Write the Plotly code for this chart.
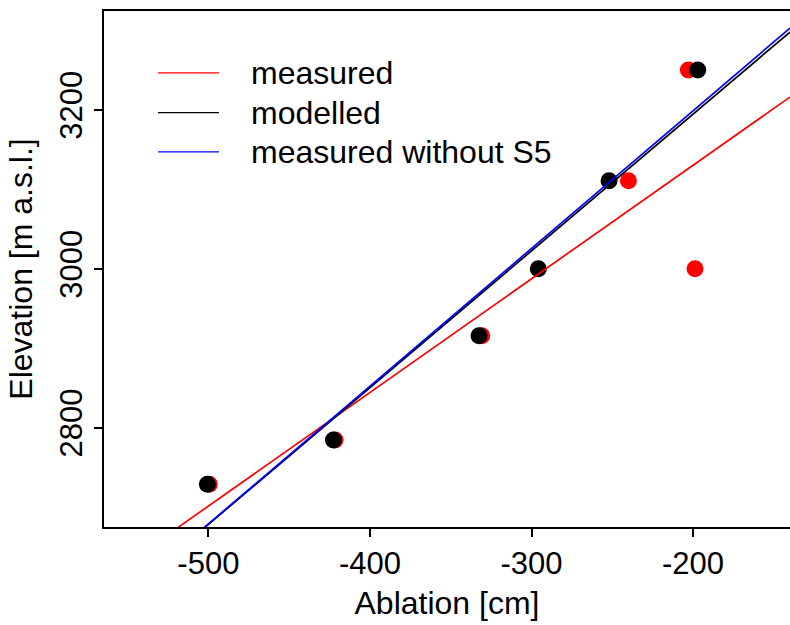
import numpy as np
import plotly.graph_objects as go

# ---- data ----
elevation = [2728.7, 2784.5, 2915.8, 3000.0, 3111.0, 3250.4]
ablation_measured = [-499.5, -421.6, -330.8, -198.8, -240.0, -202.9]
ablation_modelled = [-500.6, -422.6, -332.5, -295.8, -252.0, -197.1]
s5_index = 3  # station S5 (outlier in measured)

series_names = ["measured", "modelled", "measured without S5"]
series_colors = ["#ff0000", "#000000", "#0000ff"]

x_ticks = [-500, -400, -300, -200]
y_ticks = [2800, 3000, 3200]
x_range = [-564.6, -140.0]
y_range = [2675.0, 3324.6]

FONT = "Liberation Sans, Arial, Helvetica, sans-serif"

# regression lines y ~ x
meas_wo = [v for i, v in enumerate(ablation_measured) if i != s5_index]
elev_wo = [v for i, v in enumerate(elevation) if i != s5_index]
fits = [
    np.polyfit(ablation_measured, elevation, 1),
    np.polyfit(ablation_modelled, elevation, 1),
    np.polyfit(meas_wo, elev_wo, 1),
]

fig = go.Figure()
fig.add_trace(go.Scatter(x=ablation_measured, y=elevation, mode="markers",
                         marker=dict(color="#ff0000", size=17, line=dict(width=0)),
                         showlegend=False, cliponaxis=True))
fig.add_trace(go.Scatter(x=ablation_modelled, y=elevation, mode="markers",
                         marker=dict(color="#000000", size=17, line=dict(width=0)),
                         showlegend=False, cliponaxis=True))
xl = np.array(x_range)
for (slope, icpt), name, col in zip(fits, series_names, series_colors):
    fig.add_trace(go.Scatter(x=xl, y=slope * xl + icpt, mode="lines", name=name,
                             line=dict(color=col, width=1.7), showlegend=False))

# legend drawn in R style (long line samples)
leg_y = [0.88, 0.803, 0.727]
shapes = []
annotations = []
for name, col, yy in zip(series_names, series_colors, leg_y):
    shapes.append(dict(type="line", xref="paper", yref="paper",
                       x0=0.0788, x1=0.1676, y0=yy, y1=yy,
                       line=dict(color=col, width=1.4)))
    annotations.append(dict(text=name, xref="paper", yref="paper",
                            x=0.2114, y=yy, xanchor="left", yanchor="middle",
                            showarrow=False, font=dict(size=32, color="black", family=FONT)))

fig.update_layout(
    width=790, height=625,
    margin=dict(l=104, r=0, t=11, b=98, pad=0),
    paper_bgcolor="white", plot_bgcolor="white",
    font=dict(family=FONT, size=31, color="black"),
    shapes=shapes, annotations=annotations,
    showlegend=False,
)
fig.update_xaxes(range=x_range, tickvals=x_ticks, ticktext=[str(v) for v in x_ticks],
                 showgrid=False, zeroline=False, showline=True, linecolor="black",
                 linewidth=1.6, mirror=True, ticks="outside", ticklen=8, tickwidth=1.6,
                 tickcolor="black", tickfont=dict(size=31),
                 title=dict(text="Ablation [cm]", font=dict(size=32), standoff=12))
fig.update_yaxes(range=y_range, tickvals=y_ticks, ticktext=[str(v) for v in y_ticks],
                 showgrid=False, zeroline=False, showline=True, linecolor="black",
                 linewidth=1.6, mirror=False, ticks="outside", ticklen=8, tickwidth=1.6,
                 tickcolor="black", tickangle=-90, tickfont=dict(size=31),
                 title=dict(text="Elevation [m a.s.l.]", font=dict(size=32), standoff=12))

fig.write_html("out.html")
